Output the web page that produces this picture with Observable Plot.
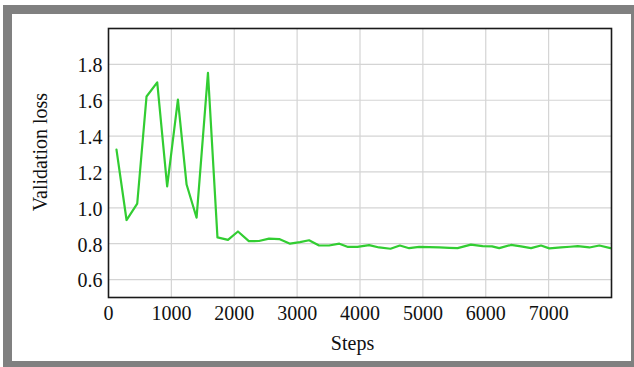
<!DOCTYPE html>
<html>
<head>
<meta charset="utf-8">
<script src="https://cdn.jsdelivr.net/npm/d3@7"></script>
<script src="https://cdn.jsdelivr.net/npm/@observablehq/plot@0.6"></script>
<style>
  html, body { margin: 0; padding: 0; background: #fff; overflow: hidden; width: 634px; height: 367px; }
  #box { position: absolute; left: 3px; top: 5px; width: 619px; height: 347px; border: 9px solid #808080; background: #fff; }
  #box svg { display: block; }
  #box svg text { font-family: "Liberation Serif", "Times New Roman", serif !important; font-size: 20px !important; font-variant: normal !important; }
</style>
</head>
<body>
<div id="box"></div>
<script>
const steps = [127, 287, 457, 605, 775, 933, 1104, 1242, 1401, 1582,
  1733, 1900, 2059, 2232, 2393, 2553, 2715, 2887, 3046, 3190,
  3349, 3508, 3672, 3810, 3959, 4145, 4304, 4485, 4634, 4782,
  4941, 5100, 5260, 5420, 5552, 5764, 5950, 6100, 6215, 6401,
  6560, 6720, 6879, 7011, 7197, 7340, 7463, 7648, 7807, 7982];
const loss = [1.325, 0.932, 1.024, 1.621, 1.700, 1.120, 1.603, 1.130, 0.945, 1.753,
  0.835, 0.821, 0.868, 0.814, 0.815, 0.828, 0.826, 0.800, 0.809, 0.819,
  0.790, 0.790, 0.800, 0.782, 0.782, 0.792, 0.779, 0.772, 0.790, 0.775,
  0.782, 0.781, 0.779, 0.777, 0.775, 0.795, 0.786, 0.785, 0.775, 0.793,
  0.785, 0.775, 0.790, 0.774, 0.779, 0.783, 0.786, 0.779, 0.790, 0.775];
const xTicks = [0, 1000, 2000, 3000, 4000, 5000, 6000, 7000];
const yTicks = [0.6, 0.8, 1.0, 1.2, 1.4, 1.6, 1.8];
const xLabel = "Steps";
const yLabel = "Validation loss";

const data = steps.map((s, i) => ({step: s, loss: loss[i]}));
const serif = "'Liberation Serif', 'Times New Roman', serif";

const chart = Plot.plot({
  width: 619,
  height: 347,
  marginLeft: 96,
  marginTop: 14,
  marginRight: 20,
  marginBottom: 64,
  style: {fontFamily: serif, fontSize: "20px", color: "#111", background: "#fff"},
  x: {domain: [0, 8000]},
  y: {domain: [0.5, 2.0]},
  marks: [
    Plot.gridX(xTicks.slice(1), {stroke: "#d4d4d4", strokeOpacity: 1, strokeWidth: 1.2}),
    Plot.gridY(yTicks, {stroke: "#d4d4d4", strokeOpacity: 1, strokeWidth: 1.2}),
    Plot.line(data, {x: "step", y: "loss", stroke: "#32cd32", strokeWidth: 2.2}),
    Plot.frame({stroke: "#1a1a1a", strokeWidth: 1.6}),
    Plot.axisX(xTicks, {tickSize: 0, tickPadding: 8, label: null, fontSize: 20, fontFamily: serif, fill: "#111", tickFormat: d3.format("d")}),
    Plot.axisY(yTicks, {tickSize: 0, tickPadding: 6, label: null, fontSize: 20, fontFamily: serif, fill: "#111", tickFormat: d3.format(".1f"), dy: 1.5}),
    Plot.text([xLabel], {text: d => d, frameAnchor: "bottom", lineAnchor: "bottom", textAnchor: "middle", dx: -7.5, dy: 52, fontSize: 20, fontFamily: serif, fill: "#111"}),
    Plot.text([yLabel], {text: d => d, frameAnchor: "left", textAnchor: "middle", lineAnchor: "middle", rotate: -90, dx: -68, dy: -11, fontSize: 20, fontFamily: serif, fill: "#111"})
  ]
});
document.getElementById("box").appendChild(chart);
</script>
</body>
</html>
